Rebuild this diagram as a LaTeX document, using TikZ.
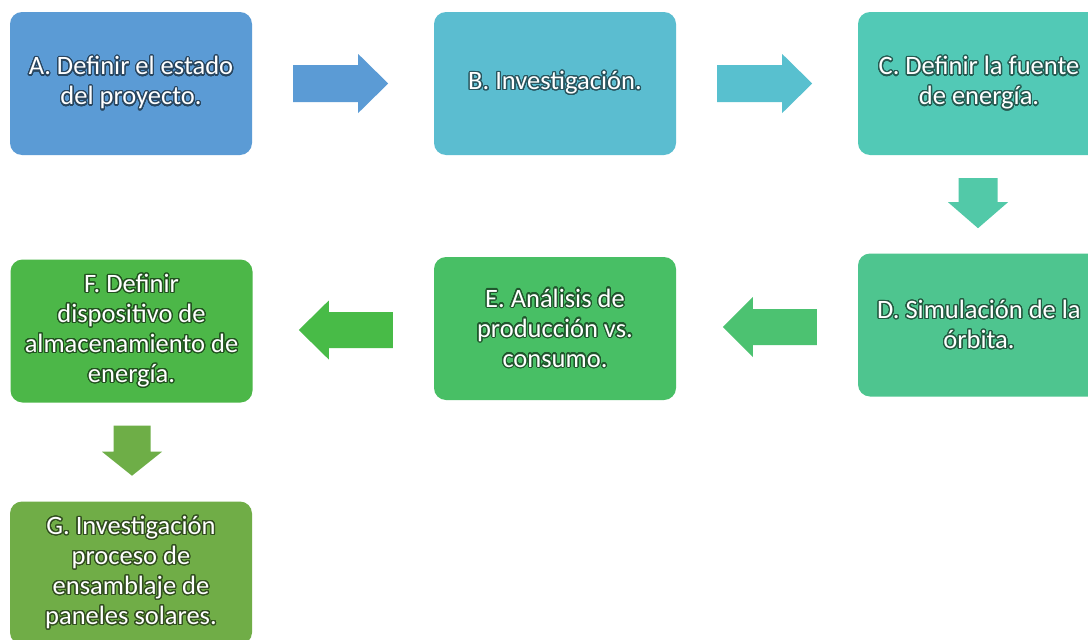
\documentclass[tikz,border=0pt]{standalone}
\usepackage{fontspec}
\setmainfont{Carlito}
\usepackage{contour}
\usetikzlibrary{calc}
\contourlength{1.2pt}
\contournumber{32}

\definecolor{colA}{HTML}{5B9BD5}
\definecolor{colB}{HTML}{5BBDD0}
\definecolor{colC}{HTML}{52C9B6}
\definecolor{colD}{HTML}{4EC58F}
\definecolor{colE}{HTML}{48BF65}
\definecolor{colF}{HTML}{4CB748}
\definecolor{colG}{HTML}{70AD47}
\definecolor{arrAB}{HTML}{5B9BD5}
\definecolor{arrBC}{HTML}{58C0CF}
\definecolor{arrCD}{HTML}{52C9A8}
\definecolor{arrDE}{HTML}{4CC271}
\definecolor{arrEF}{HTML}{48BB47}
\definecolor{arrFG}{HTML}{6EAE47}

% white text with a dark halo in the shade of its box
\newcommand\gl[1]{\contour{sh}{#1}}

% block arrow: colour, start, direction, length, shaft half-width, head half-width, head length
\newcommand\blockarrow[7]{%
  \fill[#1,shift={(#2)},rotate=#3]
    (0,-#5) -- ({#4-#7},-#5) -- ({#4-#7},-#6) -- (#4,0)
    -- ({#4-#7},#6) -- ({#4-#7},#5) -- (0,#5) -- cycle;}

\begin{document}
\begin{tikzpicture}[x=1pt,y=1pt,
  box/.style={fill=#1, rounded corners=12pt, minimum width=242pt,
    minimum height=143pt, inner sep=0pt, text=white, align=center,
    font=\fontsize{26.5}{30}\selectfont,
    execute at begin node={\colorlet{sh}{#1!45!black}}}]
\useasboundingbox (0,0) rectangle (1088,-640);
\clip (0,0) rectangle (1088,-640);
\fill[white] (0,0) rectangle (1088,-640);

\node[box=colA] (A) at (131,-83.5) {\gl{A. Definir el estado}\\\gl{del proyecto.}};
\node[box=colB] (B) at (555,-83.5) {\gl{B. Investigación.}};
\node[box=colC] (C) at (979,-83.5) {\gl{C. Definir la fuente}\\\gl{de energía.}};
\node[box=colD] (D) at (979,-325) {\gl{D. Simulación de la}\\\gl{órbita.}};
\node[box=colE] (E) at (555,-328.5) {\gl{E. Análisis de}\\\gl{producción vs.}\\\gl{consumo.}};
\node[box=colF] (F) at (131.5,-331) {\gl{F. Definir}\\\gl{dispositivo de}\\\gl{almacenamiento de}\\\gl{energía.}};
\node[box=colG] (G) at (131,-573) {\gl{G. Investigación}\\\gl{proceso de}\\\gl{ensamblaje de}\\\gl{paneles solares.}};

\coordinate (ab) at ($(A.east)+(41,0)$);
\coordinate (bc) at ($(B.east)+(41,0)$);
\coordinate (cd) at ($(C.south)+(-1,-23)$);
\coordinate (de) at ($(D.west)+(-41,-2)$);
\coordinate (ef) at ($(E.west)+(-41,-1.5)$);
\coordinate (fg) at ($(F.south)+(0.5,-23)$);

\blockarrow{arrAB}{ab}{0}{95}{18.5}{29.5}{30}
\blockarrow{arrBC}{bc}{0}{95}{18.5}{29.5}{30}
\blockarrow{arrCD}{cd}{-90}{50}{19.5}{30}{26}
\blockarrow{arrDE}{de}{180}{94}{18}{30}{30}
\blockarrow{arrEF}{ef}{180}{94}{18}{29.5}{30}
\blockarrow{arrFG}{fg}{-90}{50}{18.5}{30}{24}
\end{tikzpicture}
\end{document}
